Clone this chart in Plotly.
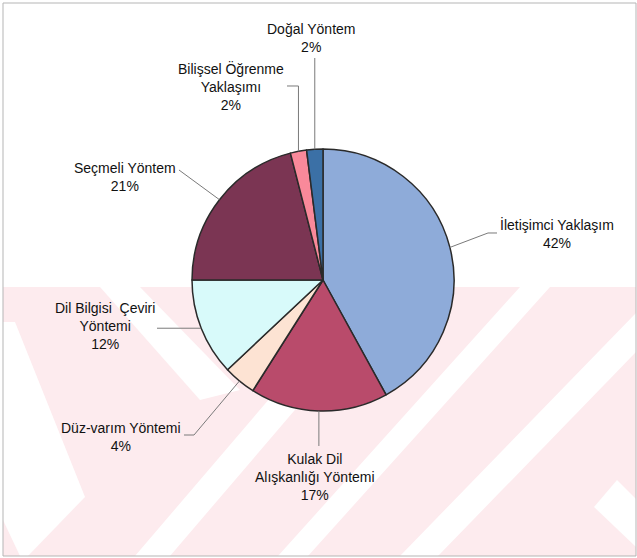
import math
import plotly.graph_objects as go

# ---- data ----
categories = ["İletişimci Yaklaşım", "Kulak Dil Alışkanlığı Yöntemi", "Düz-varım Yöntemi",
              "Dil Bilgisi  Çeviri Yöntemi", "Seçmeli Yöntem", "Bilişsel Öğrenme Yaklaşımı",
              "Doğal Yöntem"]
values = [42, 17, 4, 12, 21, 2, 2]
label_texts = ["İletişimci Yaklaşım", "Kulak Dil<br>Alışkanlığı Yöntemi", "Düz-varım Yöntemi",
               "Dil Bilgisi  Çeviri<br>Yöntemi", "Seçmeli Yöntem", "Bilişsel Öğrenme<br>Yaklaşımı",
               "Doğal Yöntem"]
colors = ["#8eabd9", "#b94b6b", "#fde3d3", "#d8fafa", "#7b3553", "#f9899a", "#3b70a6"]

# ---- layout geometry (pixels) ----
W, H = 637, 558
CX, CY, R = 323, 280, 131
# label centres (px) and leader-line elbow points (px)
label_pos = [(557, 233), (315, 477), (121, 437), (105, 326), (125, 177), (231, 87), (311, 38)]
elbows = [
    [(488, 233), (497, 233)],
    [(None, 446)],
    [(194, 435), (184, 435)],
    [(157, None)],
    [(179, 170)],
    [(None, 86), (287, 86)],
    [(None, 58)],
]

def px(x):
    return x / W

def py(y):
    return 1 - y / H

fig = go.Figure()
fig.add_trace(go.Pie(
    labels=categories, values=values, sort=False, direction="clockwise", rotation=0,
    marker=dict(colors=colors, line=dict(color="#2a2a2a", width=1.5)),
    textinfo="none", hoverinfo="label+percent", showlegend=False,
    domain=dict(x=[px(CX - R), px(CX + R)], y=[py(CY + R), py(CY - R)]),
))

total = sum(values)
shapes = []
annotations = []

# watermark-like background band
pink = "#fdebee"
shapes.append(dict(type="rect", xref="paper", yref="paper", x0=px(3), x1=px(636), y0=py(556), y1=py(287),
                   fillcolor=pink, line=dict(width=0), layer="below"))
white_polys = [
    [(3, 322), (15, 322), (85, 497), (28, 556), (20, 556), (3, 520)],
    [(100, 287), (140, 287), (240, 390), (200, 400)],
    [(365, 287), (400, 287), (170, 556), (135, 556)],
    [(520, 287), (550, 287), (308, 556), (278, 556)],
    [(636, 313), (636, 352), (438, 556), (400, 556)],
    [(617, 480), (636, 499), (636, 547), (594, 507)],
]
for poly in white_polys:
    path = "M " + " L ".join(f"{px(x):.5f},{py(y):.5f}" for x, y in poly) + " Z"
    shapes.append(dict(type="path", xref="paper", yref="paper", path=path,
                       fillcolor="white", line=dict(width=0), layer="below"))

# frame
shapes.append(dict(type="rect", xref="paper", yref="paper", x0=px(3), x1=px(636), y0=py(556), y1=py(3),
                   line=dict(color="#b5b5b5", width=1), fillcolor="rgba(0,0,0,0)", layer="below"))

cum = 0
for i, v in enumerate(values):
    mid = (cum + v / 2) / total * 2 * math.pi
    cum += v
    ax = CX + R * math.sin(mid)
    ay = CY - R * math.cos(mid)
    pts = [(ax, ay)]
    for e in elbows[i]:
        ex, ey = e
        lx, ly = pts[-1]
        pts.append((lx if ex is None else ex, ly if ey is None else ey))
    path = "M " + " L ".join(f"{px(x):.5f},{py(y):.5f}" for x, y in pts)
    shapes.append(dict(type="path", xref="paper", yref="paper", path=path,
                       line=dict(color="#7a7a7a", width=1)))
    pct = round(v / total * 100)
    lx, ly = label_pos[i]
    annotations.append(dict(
        x=px(lx), y=py(ly), xref="paper", yref="paper", showarrow=False,
        text=f"{label_texts[i]}<br>{pct}%", align="center", xanchor="center", yanchor="middle",
        font=dict(family="Liberation Sans, Arial, sans-serif", size=14, color="#111111"),
    ))

fig.update_layout(
    width=W, height=H, margin=dict(l=0, r=0, t=0, b=0),
    paper_bgcolor="white", plot_bgcolor="white",
    shapes=shapes, annotations=annotations,
)
fig.write_html("out.html", config={"displayModeBar": False},
               post_script="document.body.style.margin='0';document.body.style.overflow='hidden';")
